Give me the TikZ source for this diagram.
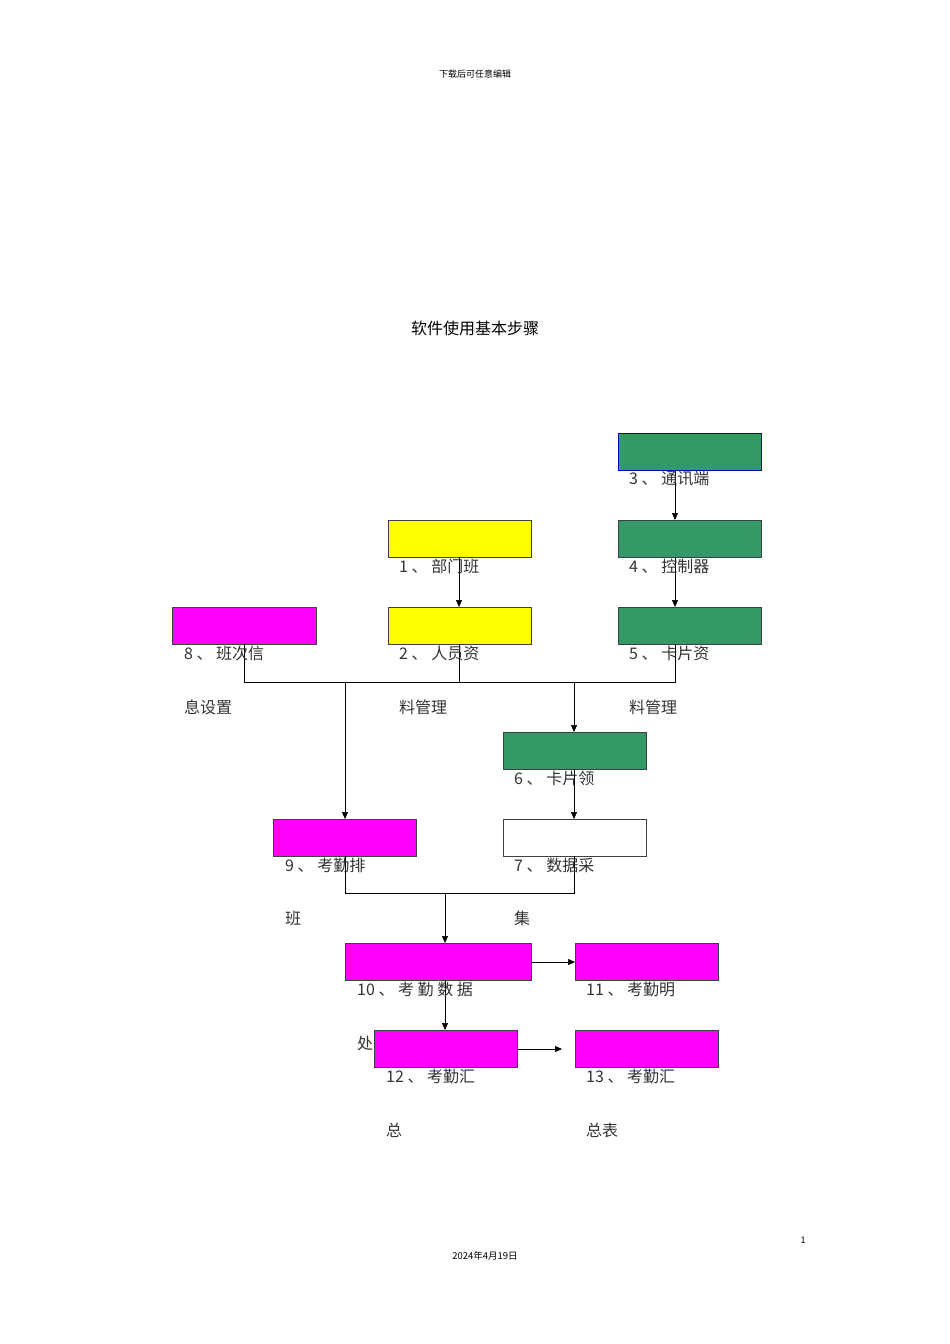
\documentclass[tikz,border=0pt]{standalone}
\usepackage{fontspec}
\setmainfont{Noto Sans CJK SC}
\usetikzlibrary{arrows.meta}
\definecolor{gr}{HTML}{339966}
\definecolor{mg}{HTML}{FF00FF}
\definecolor{yl}{HTML}{FFFF00}
\begin{document}
\begin{tikzpicture}[x=1pt,y=-1pt,
 box/.style={draw=black!75,line width=0.8pt},
 lbl/.style={anchor=west,inner sep=0pt,font=\fontsize{16}{18}\selectfont,text=black!80},
 arr/.style={-{Triangle[length=7pt,width=6pt]},line width=0.6pt},
 ln/.style={line width=0.6pt}]
\useasboundingbox (0,0) rectangle (950,1344);
\node at (475,74) {\fontsize{9}{10}\selectfont 下载后可任意编辑};
\node at (475,328) {\fontsize{16}{18}\selectfont 软件使用基本步骤};
\node at (803,1240) {\fontsize{9}{10}\selectfont 1};
\node at (485,1256) {\fontsize{9.5}{10}\selectfont 2024年4月19日};
% boxes
\draw[box,fill=gr,draw=blue!80!black] (618,433) rectangle (761,470) coordinate (b3);
\node (n3) at (689.5,451.5) {};
\draw[box,fill=yl] (388,520) rectangle (531,557); \node (n1) at (459.5,538.5) {};
\draw[box,fill=gr] (618,520) rectangle (761,557); \node (n4) at (689.5,538.5) {};
\draw[box,fill=mg] (172,607) rectangle (316,644); \node (n8) at (244,625.5) {};
\draw[box,fill=yl] (388,607) rectangle (531,644); \node (n2) at (459.5,625.5) {};
\draw[box,fill=gr] (618,607) rectangle (761,644); \node (n5) at (689.5,625.5) {};
\draw[box,fill=gr] (503,732) rectangle (646,769); \node (n6) at (574.5,750.5) {};
\draw[box,fill=mg] (273,819) rectangle (416,856); \node (n9) at (344.5,837.5) {};
\draw[box,fill=white] (503,819) rectangle (646,856); \node (n7) at (574.5,837.5) {};
\draw[box,fill=mg] (345,943) rectangle (531,980); \node (n10) at (438,961.5) {};
\draw[box,fill=mg] (575,943) rectangle (718,980); \node (n11) at (646.5,961.5) {};
% connectors
\coordinate (c3) at (675,470); \coordinate (c4t) at (675,520);
\draw[arr] (c3) -- (c4t);
\draw[arr] (459,557) -- (459,607);
\draw[arr] (675,557) -- (675,607);
\coordinate (busL) at (244,682); \coordinate (busR) at (675,682);
\draw[ln] (244,644) -- (busL) -- (busR) -- (675,644);
\draw[ln] (459,644) -- (459,682);
\draw[arr] (345,682) -- (345,819);
\draw[arr] (574,682) -- (574,732);
\draw[arr] (574,769) -- (574,819);
\draw[ln] (345,856) -- (345,893) -- (574,893) -- (574,856);
\draw[arr] (445,893) -- (445,943);
\draw[arr] (531,962) -- (575,962);
\draw[arr] (445,980) -- (445,1030);
% labels (drawn before box 12 where covered)
\node[lbl] at (357,989) {10 、 考 勤 数 据};
\node[lbl] at (357,1043) {处};
\draw[box,fill=mg] (374,1030) rectangle (517,1067); \node (n12) at (445.5,1048.5) {};
\draw[box,fill=mg] (575,1030) rectangle (718,1067); \node (n13) at (646.5,1048.5) {};
\coordinate (e13) at (562,1049);
\draw[arr] (517,1049) -- (e13);
\node[lbl] at (629,479) {3 、 通讯端};
\node[lbl] at (399,566) {1 、 部门班};
\node[lbl] at (629,566) {4 、 控制器};
\node[lbl] at (184,653) {8 、 班次信};
\node[lbl] at (184,707) {息设置};
\node[lbl] at (399,653) {2 、 人员资};
\node[lbl] at (399,707) {料管理};
\node[lbl] at (629,653) {5 、 卡片资};
\node[lbl] at (629,707) {料管理};
\node[lbl] at (514,778) {6 、 卡片领};
\node[lbl] at (285,865) {9 、 考勤排};
\node[lbl] at (285,918) {班};
\node[lbl] at (514,865) {7 、 数据采};
\node[lbl] at (514,918) {集};
\node[lbl] at (586,989) {11 、 考勤明};
\node[lbl] at (386,1076) {12 、 考勤汇};
\node[lbl] at (386,1130) {总};
\node[lbl] at (586,1076) {13 、 考勤汇};
\node[lbl] at (586,1130) {总表};
\end{tikzpicture}
\end{document}
